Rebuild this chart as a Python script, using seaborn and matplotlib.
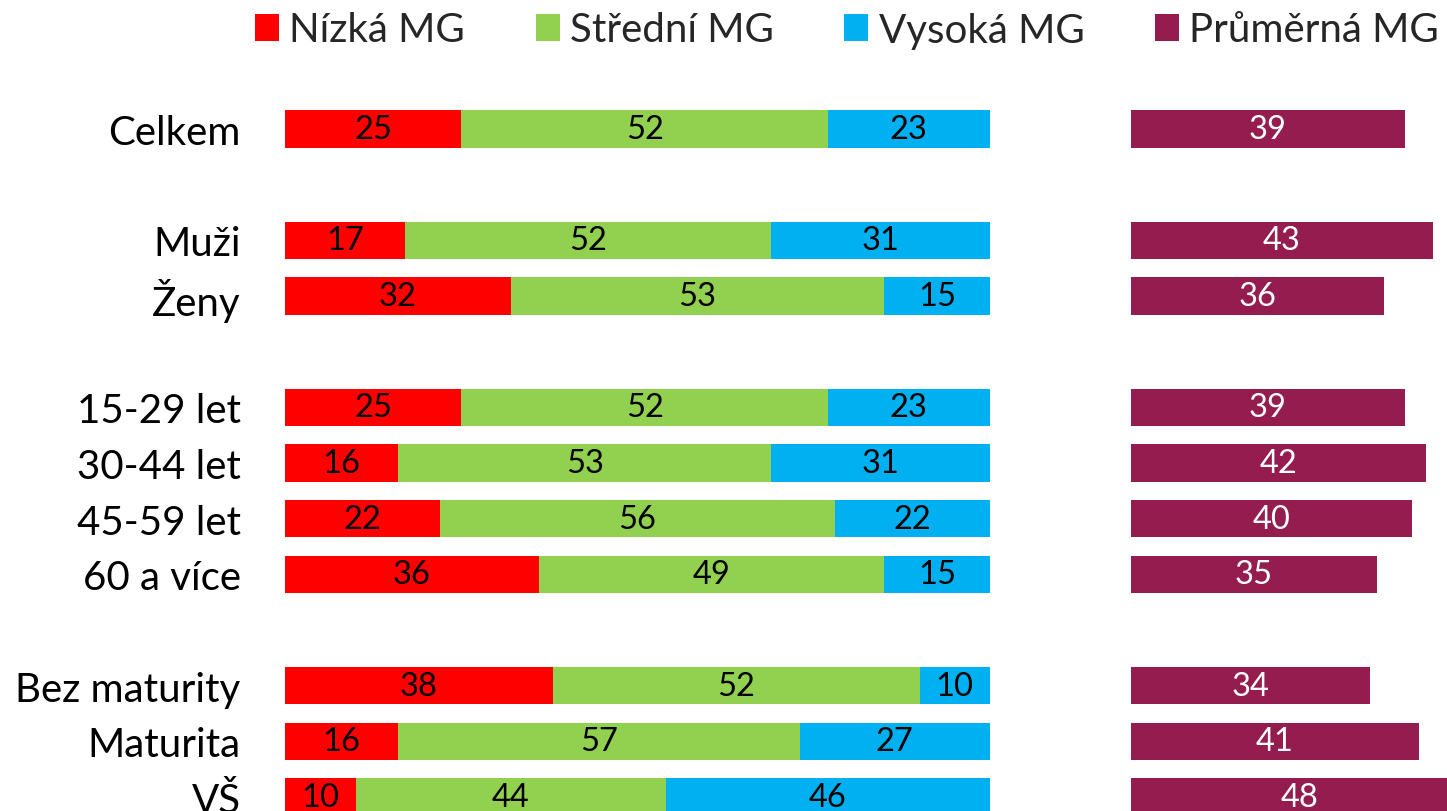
import matplotlib
matplotlib.use("Agg")
import matplotlib.pyplot as plt
import numpy as np
import pandas as pd
import seaborn as sns
from matplotlib.patches import Patch

# Survey breakdown: share of respondents by level (%), plus the average score
categories = ["Celkem", "Muži", "Ženy", "15-29 let", "30-44 let", "45-59 let",
              "60 a více", "Bez maturity", "Maturita", "VŠ"]
group_index = [0, 1, 1, 2, 2, 2, 2, 3, 3, 3]
low = [25, 17, 32, 25, 16, 22, 36, 38, 16, 10]
mid = [52, 52, 53, 52, 53, 56, 49, 52, 57, 44]
high = [23, 31, 15, 23, 31, 22, 15, 10, 27, 46]
avg = [39, 43, 36, 39, 42, 40, 35, 34, 41, 48]
series_names = ["Nízká MG", "Střední MG", "Vysoká MG", "Průměrná MG"]

RED, GREEN, BLUE, PURPLE = "#FF0000", "#92D050", "#00B0F0", "#951C4F"

sns.set_theme(style="white")
plt.rcParams["font.family"] = ["Lato", "DejaVu Sans"]

# one blank row between groups
pos = [i + g for i, g in enumerate(group_index)]
df = pd.DataFrame({"kategorie": categories, "pos": pos,
                   "low": low, "mid": mid, "high": high, "avg": avg})
df["low_mid"] = df["low"] + df["mid"]
df["total"] = df["low_mid"] + df["high"]

W, H = 1447, 812
fig = plt.figure(figsize=(W / 100, H / 100), dpi=100)
ax1 = fig.add_axes([285 / W, 0, 705 / W, (H - 95) / H])
ax2 = fig.add_axes([1131 / W, 0, 316 / W, (H - 95) / H])

bar_kw = dict(y="pos", orient="h", native_scale=True, width=0.67,
              linewidth=0, saturation=1)

# stacked bars drawn as overlapping cumulative totals
for col, color in [("total", BLUE), ("low_mid", GREEN), ("low", RED)]:
    sns.barplot(data=df, x=col, color=color, ax=ax1, **bar_kw)
sns.barplot(data=df, x="avg", color=PURPLE, ax=ax2, **bar_kw)

ylim = (12.251, -0.629)
ax1.set_ylim(*ylim)
ax2.set_ylim(*ylim)
ax1.set_xlim(0, 100)
ax2.set_xlim(0, 45)

val_fs = 23.5
for _, r in df.iterrows():
    y = r["pos"]
    ax1.text(r["low"] / 2, y, f"{r['low']}", ha="center", va="center",
             fontsize=val_fs, color="black")
    ax1.text(r["low"] + r["mid"] / 2, y, f"{r['mid']}", ha="center",
             va="center", fontsize=val_fs, color="black")
    ax1.text(r["low_mid"] + r["high"] / 2, y, f"{r['high']}", ha="center",
             va="center", fontsize=val_fs, color="black")
    ax2.text(r["avg"] / 2, y, f"{r['avg']}", ha="center", va="center",
             fontsize=val_fs, color="white")

for ax in (ax1, ax2):
    for s in ax.spines.values():
        s.set_visible(False)
    ax.set_xticks([])
    ax.set_xlabel("")
    ax.set_ylabel("")
    ax.set_facecolor("none")

ax1.set_yticks(pos)
ax1.set_yticklabels(categories, fontsize=29, color="black")
ax1.tick_params(axis="y", length=0, pad=32)
ax2.set_yticks([])

handles = [Patch(facecolor=c, edgecolor="none") for c in (RED, GREEN, BLUE, PURPLE)]
fig.legend(handles=handles, labels=series_names, loc="center",
           bbox_to_anchor=(847 / W, 1 - 31 / H), ncol=4, frameon=False,
           fontsize=29, handlelength=0.6, handleheight=0.65,
           handletextpad=0.25, columnspacing=1.75, borderaxespad=0,
           borderpad=0)

fig.savefig("out.png", dpi=100, facecolor="white")
